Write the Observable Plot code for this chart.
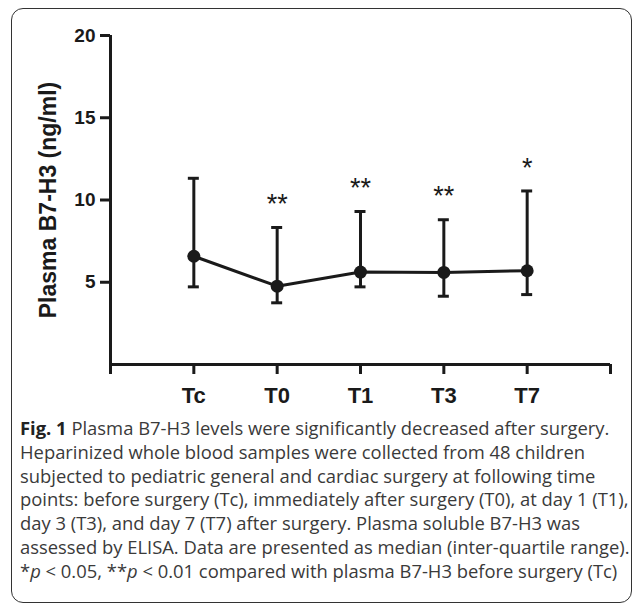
<!DOCTYPE html>
<html><head><meta charset="utf-8">
<script src="https://cdn.jsdelivr.net/npm/d3@7"></script>
<script src="https://cdn.jsdelivr.net/npm/@observablehq/plot@0.6"></script>
<style>
body{margin:0;background:#fff;width:634px;height:605px;position:relative;overflow:hidden}
#frame{position:absolute;left:11px;top:8px;width:621px;height:595px;border:1.5px solid #333;border-radius:12px;box-sizing:border-box}
#chart{position:absolute;left:0;top:0}
#caption{position:absolute;left:20px;top:416px;font-family:"Open Sans";font-size:18.4px;line-height:23.8px;color:#3a3a3a;white-space:nowrap}
#caption b{color:#222}
</style></head><body>
<div id="frame"></div><div id="chart"></div>
<div id="caption"><b>Fig. 1</b> Plasma B7-H3 levels were significantly decreased after surgery.<br>Heparinized whole blood samples were collected from 48 children<br>subjected to pediatric general and cardiac surgery at following time<br>points: before surgery (Tc), immediately after surgery (T0), at day 1 (T1),<br>day 3 (T3), and day 7 (T7) after surgery. Plasma soluble B7-H3 was<br>assessed by ELISA. Data are presented as median (inter-quartile range).<br>*<i>p</i> &lt; 0.05, **<i>p</i> &lt; 0.01 compared with plasma B7-H3 before surgery (Tc)</div>
<script>
const categories = ["Tc","T0","T1","T3","T7"];
const medians = [6.58,4.76,5.62,5.6,5.7];
const upper = [11.32,8.33,9.3,8.8,10.55];
const lower = [4.72,3.75,4.72,4.15,4.25];
const stars = ["","**","**","**","*"];
const yTicks = [5,10,15,20];
const yTitle = "Plasma B7-H3 (ng/ml)";

const data = categories.map((c,i)=>({cat:c, pos:i+1, median:medians[i], upper:upper[i], lower:lower[i], star:stars[i]}));
const ink = "#1a1a1a";
const xMax = categories.length + 1;

const chart = Plot.plot({
  width:634, height:410, marginLeft:110, marginRight:24, marginTop:35, marginBottom:46,
  x:{domain:[0,xMax]},
  y:{domain:[0,20]},
  style:{fontFamily:"'Liberation Sans', Arial, sans-serif", color:ink, background:"transparent"},
  marks:[
    Plot.axisY({ticks:yTicks, tickSize:10, tickPadding:5, strokeWidth:3, fontSize:19, fontWeight:"bold", label:null, stroke:ink, fill:ink}),
    Plot.axisX({ticks:d3.range(0, xMax+1), tickFormat:d => categories[d-1] ?? "", tickSize:10, tickPadding:13, strokeWidth:3, fontSize:22, fontWeight:"bold", label:null, stroke:ink, fill:ink}),
    Plot.ruleX([0], {y1:0, y2:20, strokeWidth:3, stroke:ink}),
    Plot.ruleY([0], {x1:0, x2:xMax, strokeWidth:3, stroke:ink}),
    Plot.ruleX(data, {x:"pos", y1:"lower", y2:"upper", strokeWidth:3, stroke:ink}),
    Plot.ruleY(data, {x1:"pos", x2:"pos", y:"upper", insetLeft:-5.5, insetRight:-5.5, strokeWidth:3, stroke:ink}),
    Plot.ruleY(data, {x1:"pos", x2:"pos", y:"lower", insetLeft:-5.5, insetRight:-5.5, strokeWidth:3, stroke:ink}),
    Plot.line(data, {x:"pos", y:"median", strokeWidth:3, stroke:ink}),
    Plot.dot(data, {x:"pos", y:"median", r:6.5, fill:ink}),
    Plot.text(data, {x:"pos", y:"upper", text:"star", dy:-23, fontSize:27, fill:ink}),
    Plot.text([yTitle], {frameAnchor:"left", textAnchor:"middle", rotate:-90, dx:-62, fontSize:23, fontWeight:"bold", fill:ink})
  ]
});
document.getElementById("chart").appendChild(chart);
</script>
</body></html>
